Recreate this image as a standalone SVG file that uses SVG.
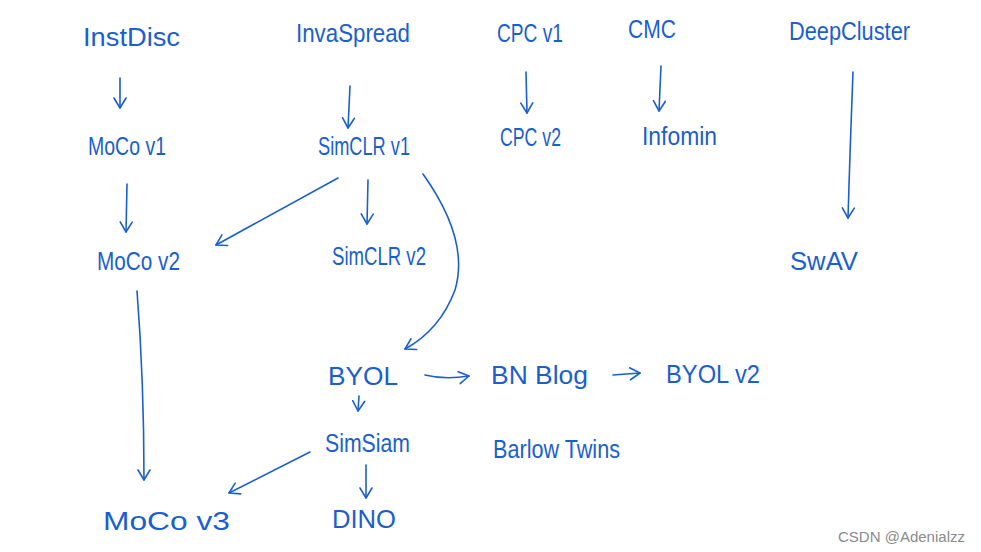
<svg xmlns="http://www.w3.org/2000/svg" width="981" height="552" viewBox="0 0 981 552">
<style>
.t{font-family:"Liberation Sans",Arial,sans-serif;font-size:25px;fill:#1b5fcc;font-weight:normal}
.c{fill:none;stroke:#1b5fcc;stroke-width:1.6;stroke-linecap:round}
.w{font-family:"Liberation Sans",Arial,sans-serif;font-size:14px;fill:#8a8a8a}
</style>
<defs>
<marker id="ah" markerWidth="14" markerHeight="14" refX="11" refY="7" orient="auto" markerUnits="userSpaceOnUse">
<polyline points="1,1 11,7 1,13" fill="none" stroke="#1b5fcc" stroke-width="1.6" stroke-linecap="round" stroke-linejoin="round"/>
</marker>
</defs>
<rect width="981" height="552" fill="#ffffff"/>
<g id="connectors">
<path class="c" marker-end="url(#ah)" d="M120,78 L120,108"/>
<path class="c" marker-end="url(#ah)" d="M127,184 L126,232"/>
<path class="c" marker-end="url(#ah)" d="M350,86 L348,128"/>
<path class="c" marker-end="url(#ah)" d="M526,72 L527,113"/>
<path class="c" marker-end="url(#ah)" d="M661,66 L659,111"/>
<path class="c" marker-end="url(#ah)" d="M853,72 Q850,150 848,218"/>
<path class="c" marker-end="url(#ah)" d="M338,178 L216,245"/>
<path class="c" marker-end="url(#ah)" d="M368,180 L367,224"/>
<path class="c" marker-end="url(#ah)" d="M423,174 Q470,240 455,290 Q440,330 405,349"/>
<path class="c" marker-end="url(#ah)" d="M137,291 Q144,380 144,480"/>
<path class="c" marker-end="url(#ah)" d="M425,375 Q445,380 469,376"/>
<path class="c" marker-end="url(#ah)" d="M613,375 L640,373"/>
<path class="c" marker-end="url(#ah)" d="M359,396 L358,411"/>
<path class="c" marker-end="url(#ah)" d="M310,452 L229,493"/>
<path class="c" marker-end="url(#ah)" d="M366,465 L366,498"/>
</g>
<g id="InstDisc"><text class="t" x="83" y="46" textLength="97" lengthAdjust="spacingAndGlyphs">InstDisc</text></g>
<g id="InvaSpread"><text class="t" x="296" y="42" textLength="114" lengthAdjust="spacingAndGlyphs">InvaSpread</text></g>
<g id="CPCv1"><text class="t" x="497" y="42" textLength="66" lengthAdjust="spacingAndGlyphs">CPC v1</text></g>
<g id="CMC"><text class="t" x="628" y="38" textLength="48" lengthAdjust="spacingAndGlyphs">CMC</text></g>
<g id="DeepCluster"><text class="t" x="789" y="40" textLength="121" lengthAdjust="spacingAndGlyphs">DeepCluster</text></g>
<g id="MoCov1"><text class="t" x="88" y="155" textLength="78" lengthAdjust="spacingAndGlyphs">MoCo v1</text></g>
<g id="SimCLRv1"><text class="t" x="318" y="155" textLength="92" lengthAdjust="spacingAndGlyphs">SimCLR v1</text></g>
<g id="CPCv2"><text class="t" x="500" y="146" textLength="61" lengthAdjust="spacingAndGlyphs">CPC v2</text></g>
<g id="Infomin"><text class="t" x="642" y="145" textLength="75" lengthAdjust="spacingAndGlyphs">Infomin</text></g>
<g id="MoCov2"><text class="t" x="97" y="270" textLength="83" lengthAdjust="spacingAndGlyphs">MoCo v2</text></g>
<g id="SimCLRv2"><text class="t" x="332" y="265" textLength="94" lengthAdjust="spacingAndGlyphs">SimCLR v2</text></g>
<g id="SwAV"><text class="t" x="790" y="270" textLength="68" lengthAdjust="spacingAndGlyphs">SwAV</text></g>
<g id="BYOL"><text class="t" x="328" y="385" textLength="70" lengthAdjust="spacingAndGlyphs">BYOL</text></g>
<g id="BNBlog"><text class="t" x="491" y="384" textLength="97" lengthAdjust="spacingAndGlyphs">BN Blog</text></g>
<g id="BYOLv2"><text class="t" x="666" y="383" textLength="94" lengthAdjust="spacingAndGlyphs">BYOL v2</text></g>
<g id="SimSiam"><text class="t" x="325" y="452" textLength="85" lengthAdjust="spacingAndGlyphs">SimSiam</text></g>
<g id="BarlowTwins"><text class="t" x="493" y="458" textLength="127" lengthAdjust="spacingAndGlyphs">Barlow Twins</text></g>
<g id="MoCov3"><text class="t" x="103" y="530" textLength="127" lengthAdjust="spacingAndGlyphs">MoCo v3</text></g>
<g id="DINO"><text class="t" x="332" y="528" textLength="64" lengthAdjust="spacingAndGlyphs">DINO</text></g>
<text class="w" x="838" y="542" textLength="127" lengthAdjust="spacingAndGlyphs">CSDN @Adenialzz</text>
</svg>
